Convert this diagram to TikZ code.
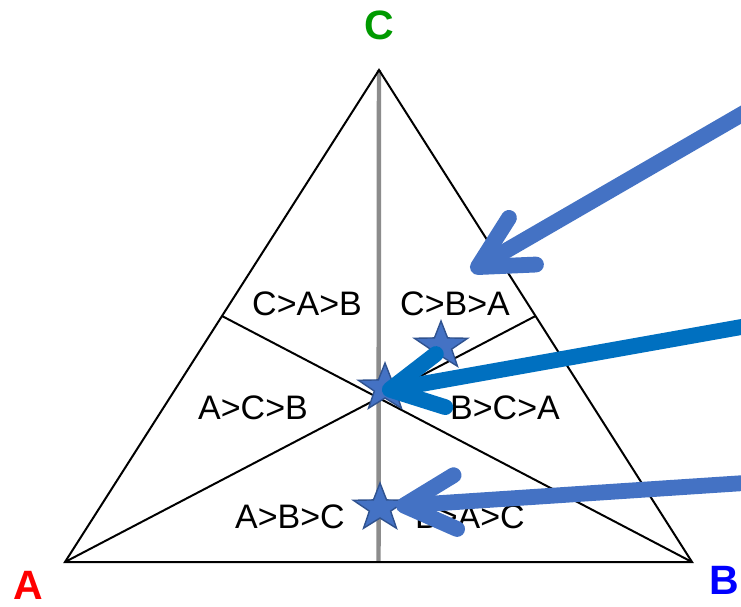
\documentclass[tikz,border=0pt]{standalone}
\usepackage{fontspec}
\setmainfont{Liberation Sans}
\usepackage{xcolor}
\definecolor{votebl}{HTML}{4472C4}
\definecolor{votedk}{HTML}{0070C0}
\definecolor{starrim}{HTML}{2F528F}
\definecolor{medgray}{HTML}{8C8C8C}
\definecolor{vtxa}{HTML}{FF0000}
\definecolor{vtxb}{HTML}{0000FF}
\definecolor{vtxc}{HTML}{009A00}
\usetikzlibrary{arrows.meta,shapes.geometric,calc}

\begin{document}
\begin{tikzpicture}[x=0.03cm,y=-0.03cm,
  side/.style={line width=1.7pt,black},
  median/.style={line width=3.8pt,medgray},
  rank/.style={inner sep=0pt,font=\fontsize{29}{32}\selectfont},
  vtx/.style={inner sep=0pt,font=\fontsize{35}{38}\selectfont\bfseries},
  votestar/.style={star,star points=5,star point ratio=2.5,minimum size=1.5cm,xscale=1.12,
    inner sep=0pt,fill=votebl,draw=starrim,line width=1.2pt},
  vote/.style={line width=13.5pt,line cap=round,
    -{Straight Barb[round,length=44pt,width=46pt]}}]
\clip (0,0) rectangle (741,606);
\fill[white] (0,0) rectangle (741,606);
\coordinate (A) at (65,562);
\coordinate (B) at (692,562);
\coordinate (C) at (379,70);
\coordinate (midAB) at ($(A)!0.5!(B)$);
\coordinate (midAC) at ($(A)!0.5!(C)$);
\coordinate (midBC) at ($(B)!0.5!(C)$);
\draw[median] (C) -- (midAB);
\draw[side] (A) -- (midBC);
\draw[side] (B) -- (midAC);
\draw[side,line join=miter] (A) -- (B) -- (C) -- cycle;

\node[vtx,text=vtxc] (labC) at (379,25) {C};
\node[vtx,text=vtxa] (labA) at (28,585) {A};
\node[vtx,text=vtxb] (labB) at (724,580) {B};

\node[rank] (cab) at (307,304) {C>A>B};
\node[rank] (cba) at (455,304) {C>B>A};
\node[rank] (acb) at (253,408) {A>C>B};
\node[rank] (bca) at (505,408) {B>C>A};
\node[rank] (abc) at (290,517) {A>B>C};
\node[rank] (bac) at (470,517) {B>A>C};

\node[votestar] (star1) at (441,346) {};
\node[votestar] (star2) at (385,388) {};
\node[votestar] (star3) at (380,508) {};

\coordinate (fromtop) at (775,95);
\coordinate (frommid) at (775,321);
\coordinate (frombot) at (775,481);
\coordinate (hittop) at (471,271);
\draw[vote,votebl] (fromtop) -- (hittop);
\draw[vote,votedk] (frommid) -- ($(star2.center)+(-3,3)$);
\draw[vote,votebl] (frombot) -- ($(star3.center)+(16,-2)$);
\end{tikzpicture}
\end{document}
